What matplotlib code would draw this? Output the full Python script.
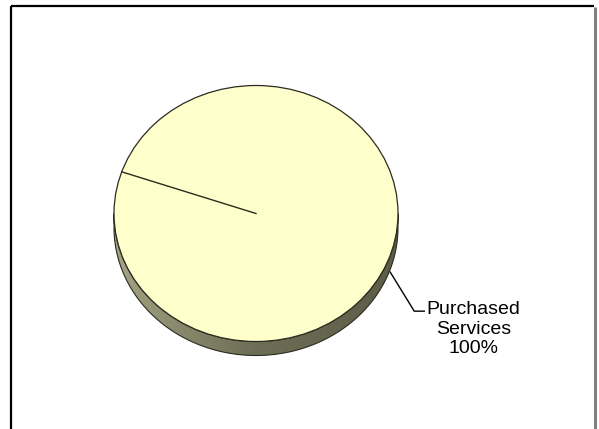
import numpy as np
import matplotlib
matplotlib.use("Agg")
import matplotlib.pyplot as plt
from matplotlib.patches import Polygon, Ellipse
from matplotlib.colors import LinearSegmentedColormap

# Data
categories = ["Purchased Services"]
values = [100.0]
start_angle = 161.0  # degrees, counter-clockwise from 3 o'clock

# Layout (pixels)
W, H = 599, 429
cx, cy = 256.0, 213.5
a, b = 142.0, 128.0
depth = 14.0

top_color = "#FFFFCC"
edge_color = "#2b2b20"

fig = plt.figure(figsize=(W / 100, H / 100), dpi=100)
ax = fig.add_axes([0, 0, 1, 1])
ax.set_xlim(0, W)
ax.set_ylim(H, 0)
ax.axis("off")

def ell(t_deg, dy=0.0):
    t = np.radians(t_deg)
    return cx + a * np.cos(t), cy - b * np.sin(t) + dy

# Side wall of the disc (visible front half), shaded
ts = np.linspace(180, 360, 200)
upper = np.column_stack(ell(ts))
lower = np.column_stack(ell(ts[::-1], depth))
side = Polygon(np.vstack([upper, lower]), closed=True, facecolor="none",
               edgecolor=edge_color, lw=0.8, zorder=2)
ax.add_patch(side)
cmap = LinearSegmentedColormap.from_list(
    "side", ["#a5a584", "#86866a", "#6e6e58", "#66664f", "#5c5c47"])
grad = np.linspace(0, 1, 256).reshape(1, -1)
im = ax.imshow(grad, cmap=cmap, aspect="auto",
               extent=[cx - a, cx + a, cy + b + depth + 1, cy - 1],
               zorder=1, interpolation="bilinear")
im.set_clip_path(side)

# Top face: one wedge per category
total = sum(values)
fracs = np.array(values) / total
bounds = start_angle + 360.0 * np.concatenate([[0.0], np.cumsum(fracs)])
for i in range(len(values)):
    tt = np.linspace(bounds[i], bounds[i + 1], 300)
    pts = np.column_stack(ell(tt))
    if fracs[i] < 1.0:
        pts = np.vstack([[cx, cy], pts])
    ax.add_patch(Polygon(pts, closed=True, facecolor=top_color,
                         edgecolor="none", zorder=3))
ax.add_patch(Ellipse((cx, cy), 2 * a, 2 * b, facecolor="none",
                     edgecolor=edge_color, lw=0.9, zorder=4))
# Slice boundary radii
for ang in bounds[:-1]:
    x1, y1 = ell(ang)
    ax.plot([cx, x1], [cy, y1], color=edge_color, lw=1.0, zorder=5)

# Labels with leader lines
for i, name in enumerate(categories):
    mid = (bounds[i] + bounds[i + 1]) / 2.0
    px, py = ell(mid, depth + 3)
    lx, ly = px + 24, py + 39
    ax.plot([px, lx, lx + 10], [py, ly, ly], color="black", lw=1.0,
            zorder=6, solid_joinstyle="miter")
    ax.text(lx + 59, ly + 18, f"{name.replace(' ', chr(10))}\n{values[i] / total:.0%}",
            ha="center", va="center", fontsize=14, family="Liberation Sans",
            linespacing=1.2, zorder=6)

# Frame
ax.plot([11, 11], [H, 6], color="black", lw=1.6, solid_capstyle="butt")
ax.plot([11, 594], [6, 6], color="black", lw=1.6, solid_capstyle="butt")
ax.plot([594.5, 594.5], [7, H], color="#808080", lw=2.2, solid_capstyle="butt")

fig.savefig("out.png", dpi=100)
